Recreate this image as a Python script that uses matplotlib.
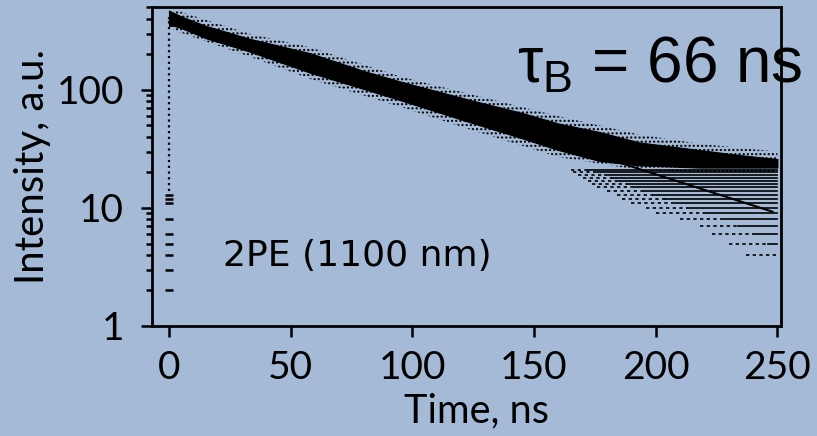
import matplotlib
matplotlib.use("Agg")
import matplotlib.pyplot as plt

# Settings
bg_color = "#a4bad6"
label_font = "Lato"
output_image = "out.png"

# Dense part of the decay: envelope (time ns, counts)
band_t = [0, 2, 5, 15, 33, 58, 80, 95, 124, 145, 160, 177, 193, 218, 235, 250]
band_top = [470, 450, 420, 350, 272, 205, 145, 118, 82, 64, 52, 44, 36, 31, 28, 26]
band_bot = [350, 350, 335, 275, 212, 140, 102, 82, 53, 39, 31, 25, 23, 22, 22, 22]

# scattered points just outside the dense band
outer_t = [2, 33, 58, 95, 124, 160, 193, 218, 250]
outer_top = [480, 300, 230, 130, 92, 60, 42, 35, 30]
outer_bot = [320, 192, 124, 72, 46, 27, 21, 20, 20]

# integer count levels at late times: where each level starts (sparse / solid)
levels = [21, 20, 19, 18, 17, 16, 15, 14, 13, 12, 11, 10, 9, 8, 7, 6, 5, 4]
sparse_start = [165, 166, 168, 170, 172, 174, 176, 180, 184, 186, 190, 196, 200, 210, 218, 223, 230, 237]
solid_start = [172, 176, 179, 182, 185, 188, 191, 195, 199, 204, 208, 213, 220, 228, 234, 241, 246, 250]
level_end = 250

# counts recorded at t = 0 (rise of the pulse)
rise_counts = [2, 3, 4, 5, 6, 8, 11, 12, 13]
rise_line = [14, 390]

# single-exponential fit, tau_B = 66 ns
fit_t = [0, 248]
fit_y = [405, 9.3]

plt.rcParams["mathtext.fontset"] = "custom"
plt.rcParams["mathtext.rm"] = "Liberation Sans"
plt.rcParams["mathtext.it"] = "Liberation Sans"
plt.rcParams["hatch.linewidth"] = 1.0

fig = plt.figure(figsize=(8.17, 4.36), dpi=100, facecolor=bg_color)
ax = fig.add_axes([0.186, 0.2523, 0.77, 0.7317])
ax.set_facecolor(bg_color)

ax.fill_between(outer_t, outer_bot, outer_top, facecolor="none", edgecolor="black",
                hatch="....", lw=0)
ax.fill_between(band_t, band_bot, band_top, color="black", lw=0.8)

for lev, s0, s1 in zip(levels, sparse_start, solid_start):
    ax.plot([s0, s1], [lev, lev], color="black", lw=1.2, ls=(0, (2, 2)))
    if s1 < level_end:
        ax.plot([s1, level_end], [lev, lev], color="black", lw=1.2)

ax.vlines(0, rise_line[0], rise_line[1], color="black", lw=1.6, linestyles=(0, (1, 1.6)))
ax.plot([0] * len(rise_counts), rise_counts, ls="none", marker="_", ms=6, mew=1.8, color="black")

ax.plot(fit_t, fit_y, color="black", lw=1.5)

ax.set_yscale("log")
ax.set_ylim(1, 505)
ax.set_xlim(-7, 251.5)
ax.set_xticks([0, 50, 100, 150, 200, 250])
ax.set_yticks([1, 10, 100])
ax.set_yticklabels(["1", "10", "100"])
ax.minorticks_off()
ax.set_yticks([v * d for d in (1, 10, 100) for v in range(2, 10) if v * d < 505], minor=True)

for s in ax.spines.values():
    s.set_linewidth(2)
ax.tick_params(axis="both", which="major", direction="out", length=8, width=1.8,
               labelsize=28, pad=9)
ax.tick_params(axis="y", which="major", pad=12)
ax.tick_params(axis="y", which="minor", direction="out", length=4, width=1.8)
for lab in ax.get_xticklabels() + ax.get_yticklabels():
    lab.set_family(label_font)

ax.set_xlabel("Time, ns", fontsize=28.5, family=label_font, labelpad=5)
ax.xaxis.label.set_x(0.515)
ax.set_ylabel("Intensity, a.u.", fontsize=29, family=label_font, labelpad=4)

ax.text(22, 3.2, "2PE (1100 nm)", fontsize=26, family="DejaVu Sans")
ax.text(143, 115, r"$\tau_\mathrm{B}$ = 66 ns", fontsize=46, family="Liberation Sans",
        clip_on=False)

fig.savefig(output_image, dpi=100, facecolor=bg_color)
